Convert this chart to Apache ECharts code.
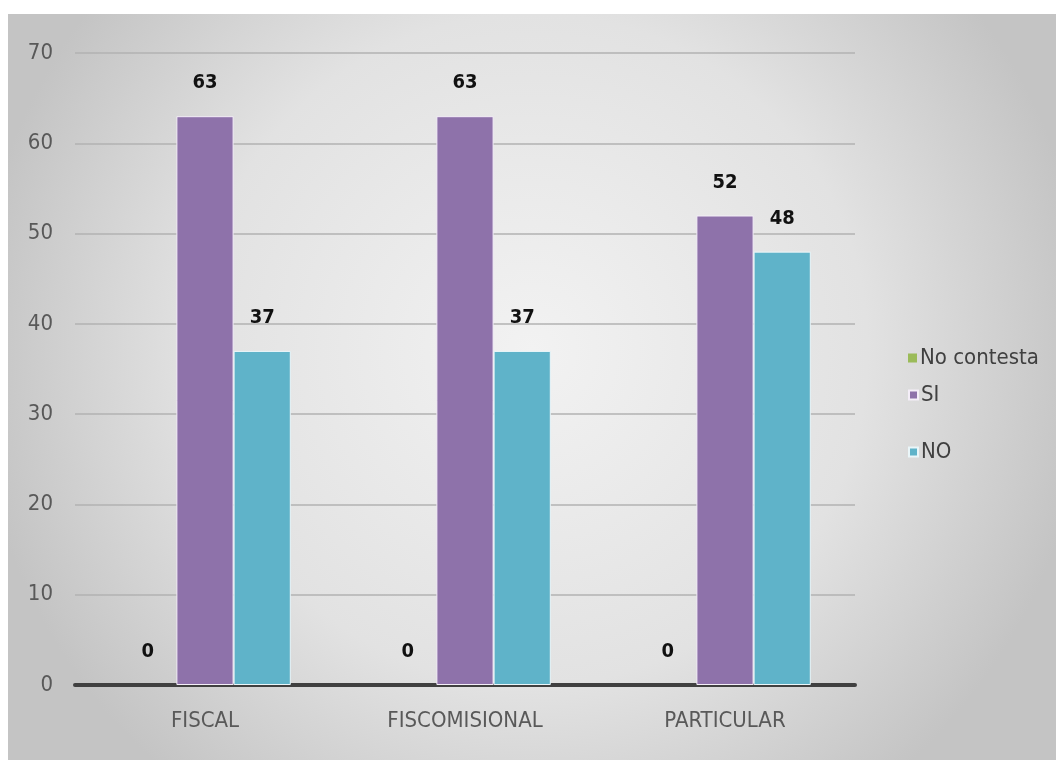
<!DOCTYPE html>
<html><head><meta charset="utf-8">
<script src="https://cdn.jsdelivr.net/npm/echarts@6/dist/echarts.min.js"></script>
<style>html,body{margin:0;padding:0;background:#fff}#c{width:1056px;height:760px}</style>
</head><body><div id="c"></div>
<script>
const categories = ['FISCAL', 'FISCOMISIONAL', 'PARTICULAR'];
const noContesta = [0, 0, 0];
const si = [63, 63, 52];
const no = [37, 37, 48];
const yTicks = [0, 10, 20, 30, 40, 50, 60, 70];

const FONT = '"DejaVu Sans Condensed", "Liberation Sans Narrow", "Open Sans", sans-serif';
const chart = echarts.init(document.getElementById('c'));
const lbl = {show: true, position: 'top', distance: 23, color: '#111', fontWeight: 'bold', fontSize: 20, fontFamily: FONT};
function legend(name, top) {
  return {data: [name], left: 903, top: top, orient: 'vertical', itemWidth: 9, itemHeight: 9,
    icon: 'rect', textStyle: {fontSize: 22, color: '#404040', fontFamily: FONT, padding: [0, 0, 0, -2]}, itemGap: 4};
}
chart.setOption({
  backgroundColor: '#ffffff',
  graphic: [{type: 'rect', z: -10, silent: true, shape: {x: 8, y: 14, width: 1048, height: 746},
    style: {fill: {type: 'radial', x: 0.5, y: 0.45, r: 0.75, colorStops: [
      {offset: 0, color: '#f2f2f2'}, {offset: 0.6, color: '#e2e2e2'}, {offset: 1, color: '#c4c4c4'}]}}}],
  legend: [legend('No contesta', 342), legend('SI', 379), legend('NO', 436)],
  grid: {left: 75, right: 201, top: 53, bottom: 75, containLabel: false},
  xAxis: {type: 'category', data: categories,
    axisLine: {show: true, lineStyle: {color: '#404040', width: 4}},
    axisTick: {show: false},
    axisLabel: {color: '#595959', fontSize: 22, margin: 25, fontFamily: FONT}},
  yAxis: {type: 'value', min: 0, max: 70, interval: 10,
    axisLine: {show: false}, axisTick: {show: false},
    splitLine: {lineStyle: {color: '#b2b2b2', width: 1.5}},
    axisLabel: {color: '#595959', fontSize: 22, margin: 22, fontFamily: FONT,
      formatter: v => yTicks.includes(v) ? String(v) : ''}},
  series: [
    {name: 'No contesta', type: 'bar', data: noContesta, itemStyle: {color: '#9bbb59'}, label: lbl, barGap: '0%', barCategoryGap: '34%'},
    {name: 'SI', type: 'bar', data: si, itemStyle: {color: '#8e72aa', borderColor: '#f4eef8', borderWidth: 1}, label: lbl},
    {name: 'NO', type: 'bar', data: no, itemStyle: {color: '#5fb3c9', borderColor: '#eaf6f9', borderWidth: 1}, label: lbl}
  ]
});
</script></body></html>
